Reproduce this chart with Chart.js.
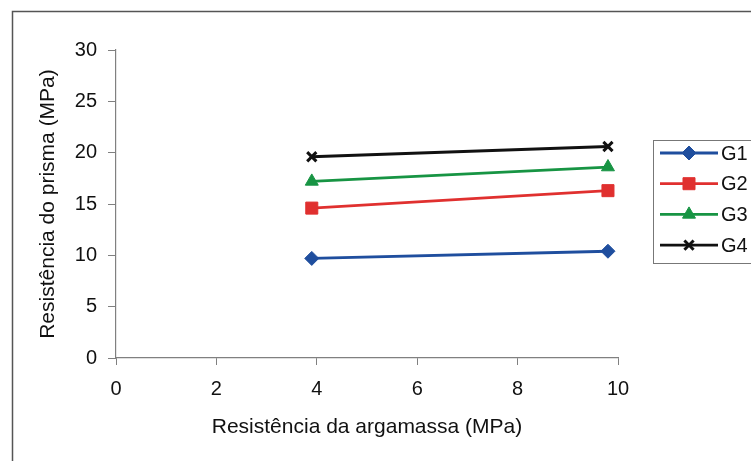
<!DOCTYPE html>
<html>
<head>
<meta charset="utf-8">
<script src="https://cdn.jsdelivr.net/npm/chart.js@4/dist/chart.umd.min.js"></script>
<style>
  html, body { margin: 0; padding: 0; background: #fff; }
  #wrap { width: 751px; height: 461px; position: relative; }
</style>
</head>
<body>
<div id="wrap"><canvas id="chart" width="751" height="461"></canvas></div>
<script>
// ── data ──────────────────────────────────────────────────────────
const argamassa = [3.9, 9.8];              // x: Resistência da argamassa (MPa)
const seriesNames = ["G1", "G2", "G3", "G4"];
const g1 = [9.7, 10.4];
const g2 = [14.6, 16.3];
const g3 = [17.2, 18.6];
const g4 = [19.6, 20.6];
const xTicks = [0, 2, 4, 6, 8, 10];
const yTicks = [0, 5, 10, 15, 20, 25, 30];

const FONT = "'Liberation Sans', Arial, sans-serif";
const styles = [
  { color: "#1f4e9e", point: "rectRot",  radius: 7 },
  { color: "#e0302f", point: "rect",     radius: 8.5 },
  { color: "#179443", point: "triangle", radius: 7.5 },
  { color: "#111111", point: "crossRot", radius: 6.5 },
];

const datasets = [g1, g2, g3, g4].map((vals, i) => ({
  label: seriesNames[i],
  data: argamassa.map((x, j) => ({ x: x, y: vals[j] })),
  showLine: true,
  borderColor: styles[i].color,
  backgroundColor: styles[i].color,
  borderWidth: 2.8,
  pointStyle: styles[i].point,
  pointRadius: styles[i].radius,
  pointBorderWidth: i === 3 ? 3 : 1,
  pointBorderColor: styles[i].color,
  pointBackgroundColor: styles[i].color,
}));

// outer frame + legend box, Excel-style
const framePlugin = {
  id: "frame",
  afterDraw(chart) {
    const c = chart.ctx;
    c.save();
    c.strokeStyle = "#555";
    c.lineWidth = 1.5;
    c.strokeRect(12.5, 11.5, 760, 470);

    // legend
    c.strokeStyle = "#777";
    c.lineWidth = 1;
    c.strokeRect(653.5, 140.5, 110, 123);
    chart.data.datasets.forEach((ds, i) => {
      const y = 153 + i * 30.7;
      c.strokeStyle = ds.borderColor;
      c.lineWidth = 2.8;
      c.beginPath();
      c.moveTo(660, y);
      c.lineTo(718, y);
      c.stroke();
      c.fillStyle = ds.pointBackgroundColor;
      c.strokeStyle = ds.pointBorderColor;
      c.lineWidth = ds.pointBorderWidth;
      Chart.helpers.drawPoint(c, { pointStyle: ds.pointStyle, radius: ds.pointRadius, borderWidth: ds.pointBorderWidth }, 689, y);
      c.fillStyle = "#111";
      c.font = "20px " + FONT;
      c.textBaseline = "middle";
      c.textAlign = "left";
      c.fillText(ds.label, 721, y + 1);
    });
    c.restore();
  }
};

new Chart(document.getElementById("chart"), {
  type: "scatter",
  data: { datasets },
  plugins: [framePlugin],
  options: {
    responsive: false,
    animation: false,
    layout: { padding: { top: 50, right: 133, left: 0, bottom: 0 } },
    plugins: { legend: { display: false }, tooltip: { enabled: false } },
    scales: {
      x: {
        type: "linear",
        min: 0, max: 10,
        afterBuildTicks: s => { s.ticks = xTicks.map(v => ({ value: v })); },
        afterFit: s => { s.height = 103; },
        border: { color: "#808080", width: 1.2 },
        grid: { drawOnChartArea: false, drawTicks: true, tickLength: 7, color: "#808080" },
        ticks: { color: "#111", font: { family: FONT, size: 20 }, padding: 12 },
        title: {
          display: true, text: "Resistência da argamassa (MPa)",
          color: "#111", font: { family: FONT, size: 21 }, padding: { top: 0, bottom: 21 }
        },
      },
      y: {
        type: "linear",
        min: 0, max: 30,
        afterBuildTicks: s => { s.ticks = yTicks.map(v => ({ value: v })); },
        afterFit: s => { s.width = 116; },
        border: { color: "#808080", width: 1.2 },
        grid: { drawOnChartArea: false, drawTicks: true, tickLength: 8, color: "#808080" },
        ticks: { color: "#111", font: { family: FONT, size: 20 }, padding: 11 },
        title: {
          display: true, text: "Resistência do prisma (MPa)",
          color: "#111", font: { family: FONT, size: 21 }, padding: { top: 36, bottom: 0 }
        },
      },
    },
  },
});
</script>
</body>
</html>
